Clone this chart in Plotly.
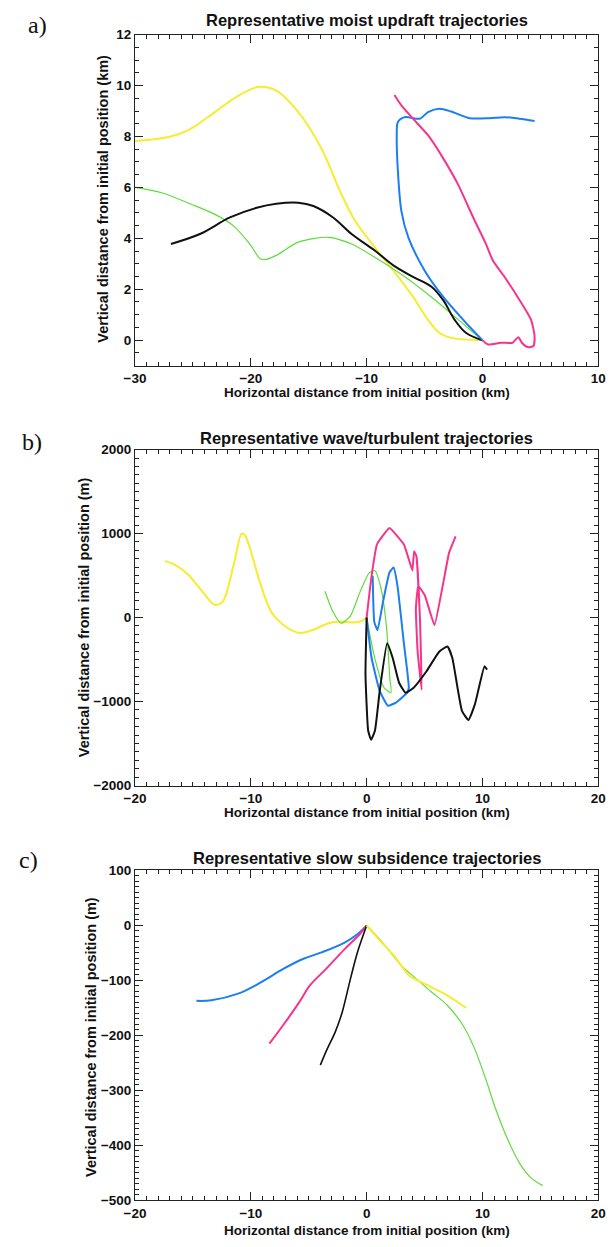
import plotly.graph_objects as go

# ---------------- Panel a: moist updraft (km, km) ----------------
a_yellow_x = [-30, -27.0, -25.4, -23.1, -21.1, -19.3, -17.8, -15.9, -13.9, -12.3, -11.0, -9.3, -7.7, -6.0, -4.7, -3.7, -2.7, 0]
a_yellow_y = [7.82, 7.99, 8.25, 8.96, 9.6, 9.95, 9.8, 8.96, 7.53, 5.85, 4.69, 3.65, 2.74, 1.71, 0.80, 0.28, 0.09, 0]
a_black_x = [-26.9, -24.4, -21.8, -19.5, -17.8, -15.9, -14.6, -12.9, -11.3, -9.3, -7.7, -6.0, -4.4, -3.4, -2.4, -1.4, 0]
a_black_y = [3.78, 4.17, 4.82, 5.2, 5.36, 5.4, 5.27, 4.82, 4.17, 3.52, 2.94, 2.49, 2.10, 1.58, 0.80, 0.28, 0]
a_green_x = [-30, -27.7, -25.1, -23.1, -21.5, -20.1, -19.2, -18.8, -17.8, -15.9, -13.3, -11.3, -9.3, -6.7, -4.1, -1.4, 0]
a_green_y = [6.0, 5.79, 5.33, 4.94, 4.49, 3.78, 3.2, 3.16, 3.33, 3.85, 4.04, 3.78, 3.26, 2.49, 1.58, 0.54, 0]
a_blue_x = [0, -1.4, -3.4, -5.0, -6.4, -7.0, -7.3, -7.4, -7.3, -6.7, -5.4, -4.7, -3.7, -2.7, -1.1, 0.6, 1.9, 3.2, 4.5]
a_blue_y = [0, 0.67, 1.71, 2.74, 4.04, 5.07, 6.63, 7.92, 8.57, 8.76, 8.70, 8.96, 9.09, 8.98, 8.72, 8.72, 8.76, 8.70, 8.61]
a_pink_x = [-7.6, -7.0, -6.0, -4.7, -3.4, -2.1, -0.8, 0.3, 0.9, 1.9, 3.2, 4.2, 4.5, 4.4, 3.9, 3.4, 3.1, 2.6, 1.6, 0.5, 0]
a_pink_y = [9.63, 9.22, 8.70, 8.05, 7.15, 6.11, 4.82, 3.78, 3.13, 2.49, 1.58, 0.80, 0.16, -0.23, -0.27, -0.10, 0.12, -0.10, -0.10, -0.17, 0]

# ---------------- Panel b: wave/turbulent (km, m) ----------------
b_yellow_x = [-17.4, -16.4, -15.4, -14.1, -13.1, -12.4, -11.5, -10.8, -10.5, -9.8, -9.2, -8.2, -6.9, -5.7, -4.6, -3.3, -2.2, -1.2, -0.4, 0]
b_yellow_y = [675, 616, 510, 294, 149, 196, 616, 1000, 980, 694, 412, 59, -118, -184, -145, -67, -47, -59, -39, 0]
b_green_x = [-3.6, -2.9, -2.2, -1.4, -0.6, 0.2, 0.7, 1.2, 1.7, 2.0, 2.1, 1.5, 0.7, 0]
b_green_y = [314, 67, -67, 20, 294, 529, 560, 373, -90, -718, -894, -835, -482, 0]
b_blue_x = [0, 0.43, 1.13, 1.83, 2.53, 3.5, 3.64, 3.2, 2.66, 2.33, 1.97, 1.41, 0.94, 0.66, 0.52]
b_blue_y = [0, -482, -874, -1050, -1012, -894, -835, -286, 380, 596, 537, 184, -149, -51, 498]
b_pink_x = [0, 0.39, 0.89, 1.97, 3.22, 3.64, 3.95, 4.1, 4.3, 4.6, 4.75, 4.4, 4.25, 4.45, 5.03, 5.86, 6.57, 7.12, 7.68]
b_pink_y = [0, 459, 871, 1067, 870, 694, 560, 790, 730, 0, -860, -400, 100, 380, 262, -90, 380, 773, 968]
b_black_x = [0, -0.1, 0.13, 0.38, 0.72, 1.13, 1.77, 2.25, 2.8, 3.36, 4.06, 5.17, 6.28, 6.98, 7.4, 8.23, 8.79, 9.35, 10.18, 10.4]
b_black_y = [0, -679, -1345, -1455, -1345, -874, -306, -482, -776, -894, -835, -639, -404, -345, -482, -1110, -1220, -1032, -580, -620]

# ---------------- Panel c: slow subsidence (km, m) ----------------
c_blue_x = [-14.7, -13.4, -11.1, -9.1, -7.2, -5.5, -3.9, -1.9, -0.8, 0]
c_blue_y = [-137, -136, -124, -103, -79, -61, -49, -31, -16, 0]
c_pink_x = [-8.4, -7.2, -5.8, -4.9, -3.5, -1.9, -0.6, 0]
c_pink_y = [-215, -181, -139, -109, -79, -43, -16, 0]
c_black_x = [-4.0, -3.5, -2.7, -2.1, -1.4, -0.8, 0]
c_black_y = [-254, -229, -193, -157, -97, -49, 0]
c_yellow_x = [0, 1.05, 2.36, 3.68, 5.3, 6.96, 8.6]
c_yellow_y = [0, -25, -55, -91, -109, -127, -150]
c_green_x = [0, 1.38, 3.0, 4.3, 5.6, 6.96, 8.3, 9.3, 10.25, 11.2, 12.2, 13.2, 14.2, 15.2]
c_green_y = [0, -31, -73, -97, -121, -145, -181, -223, -277, -337, -390, -432, -459, -473]

titles = ["Representative moist updraft trajectories",
          "Representative wave/turbulent trajectories",
          "Representative slow subsidence trajectories"]
panel_labels = ["a)", "b)", "c)"]
xtitle = "Horizontal distance from initial position (km)"
ytitles = ["Vertical distance from initial position (km)",
           "Vertical distance from initial position (m)",
           "Vertical distance from initial position (m)"]

YELLOW = "#f7ec2e"
GREEN = "#5fdc3c"
BLUE = "#1c7ef2"
PINK = "#f5358c"
BLACK = "#111111"

W, H = 614, 1247
fig = go.Figure()

def add(x, y, color, width, ax, smooth):
    fig.add_trace(go.Scatter(x=x, y=y, mode="lines", xaxis="x" + ax, yaxis="y" + ax,
                             line=dict(color=color, width=width, shape="spline", smoothing=smooth),
                             showlegend=False, hoverinfo="skip"))

# panel a
add(a_yellow_x, a_yellow_y, YELLOW, 2, "", 1.0)
add(a_green_x, a_green_y, GREEN, 1.2, "", 0.8)
add(a_black_x, a_black_y, BLACK, 2, "", 1.0)
add(a_blue_x, a_blue_y, BLUE, 2, "", 0.8)
add(a_pink_x, a_pink_y, PINK, 2, "", 0.6)
# panel b
add(b_yellow_x, b_yellow_y, YELLOW, 2, "2", 0.8)
add(b_green_x, b_green_y, GREEN, 1.2, "2", 0.6)
add(b_blue_x, b_blue_y, BLUE, 2, "2", 0.4)
add(b_pink_x, b_pink_y, PINK, 2, "2", 0.3)
add(b_black_x, b_black_y, BLACK, 2, "2", 0.4)
# panel c
add(c_blue_x, c_blue_y, BLUE, 2, "3", 1.0)
add(c_pink_x, c_pink_y, PINK, 2, "3", 1.0)
add(c_black_x, c_black_y, BLACK, 1.6, "3", 0.8)
add(c_green_x, c_green_y, GREEN, 1.2, "3", 1.0)
add(c_yellow_x, c_yellow_y, YELLOW, 2, "3", 0.8)

FONT = "Liberation Sans"
tickfont = dict(family=FONT, size=13.5, color="#111111", weight="bold")
AXC = "#222222"

def xax(rng, anchor, dtick, mdtick):
    return dict(range=rng, domain=[128 / W, 606 / W], anchor=anchor, dtick=dtick,
                ticks="inside", ticklen=8, tickwidth=1, tickcolor=AXC,
                showline=True, linecolor=AXC, linewidth=1, mirror="allticks",
                showgrid=False, zeroline=False, tickfont=tickfont,
                minor=dict(ticks="inside", dtick=mdtick, ticklen=4, tickcolor=AXC, showgrid=False))

def yax(rng, anchor, top, bot, dtick, mdtick):
    return dict(range=rng, domain=[1 - bot / H, 1 - top / H], anchor=anchor, dtick=dtick,
                ticks="inside", ticklen=8, tickwidth=1, tickcolor=AXC,
                showline=True, linecolor=AXC, linewidth=1, mirror="allticks",
                showgrid=False, zeroline=False, tickfont=tickfont,
                minor=dict(ticks="inside", dtick=mdtick, ticklen=4, tickcolor=AXC, showgrid=False))

tops = [28, 448, 874]
bots = [363, 788, 1208]
fig.update_layout(
    width=W, height=H, margin=dict(l=0, r=0, t=0, b=0),
    paper_bgcolor="white", plot_bgcolor="white",
    xaxis=xax([-30, 10], "y", 10, 1),
    yaxis=yax([-1, 12], "x", tops[0], bots[0], 2, 0.5),
    xaxis2=xax([-20, 20], "y2", 10, 1),
    yaxis2=yax([-2000, 2000], "x2", tops[1], bots[1], 1000, 100),
    xaxis3=xax([-20, 20], "y3", 10, 1),
    yaxis3=yax([-500, 100], "x3", tops[2], bots[2], 100, 10),
)

ann = []
title_y = [13, 436, 861]
label_y = [18, 440, 863]
label_x = [27, 22, 18]
ytitle_x = [95, 75, 83]
ytitle_c = [194, 618, 1042]
xtitle_y = [390, 815, 1238]
for i in range(3):
    ann.append(dict(text=titles[i], x=367 / W, y=1 - title_y[i] / H, xref="paper", yref="paper",
                    showarrow=False, xanchor="center", yanchor="middle",
                    font=dict(family=FONT, size=16.5, color="#111", weight="bold")))
    ann.append(dict(text=panel_labels[i], x=label_x[i] / W, y=1 - label_y[i] / H, xref="paper", yref="paper",
                    showarrow=False, xanchor="center", yanchor="middle",
                    font=dict(family="Liberation Serif", size=24, color="#111")))
    ann.append(dict(text=ytitles[i], x=ytitle_x[i] / W, y=1 - ytitle_c[i] / H,
                    xref="paper", yref="paper", showarrow=False, textangle=-90,
                    xanchor="center", yanchor="middle",
                    font=dict(family=FONT, size=14.5, color="#111", weight="bold")))
    ann.append(dict(text=xtitle, x=367 / W, y=1 - xtitle_y[i] / H,
                    xref="paper", yref="paper", showarrow=False,
                    xanchor="center", yanchor="middle",
                    font=dict(family=FONT, size=13.5, color="#111", weight="bold")))
fig.update_layout(annotations=ann)

fig.write_html("out.html")
